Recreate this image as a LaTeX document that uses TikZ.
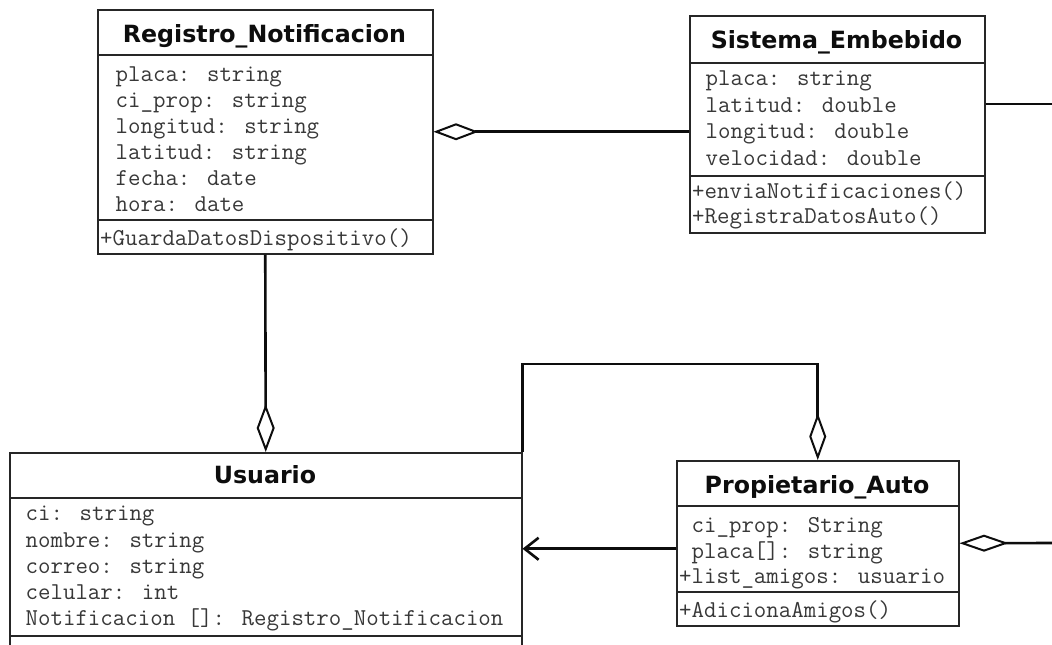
\documentclass[tikz,border=0pt]{standalone}
\usepackage{fontspec}
\usetikzlibrary{arrows.meta}
\newfontfamily\dejavufam{DejaVu Sans}
\newcommand{\ttlfont}{\dejavufam\bfseries\fontsize{23.7}{26}\selectfont}
\newcommand{\atrfont}{\ttfamily\fontsize{24.2}{26}\selectfont}
\tikzset{
  cls/.style={draw=black!85, line width=1.5pt, fill=white, rectangle, inner sep=0pt, anchor=north west},
  ttl/.style={font=\ttlfont, text=black!95, inner sep=0pt, anchor=base},
  atr/.style={font=\atrfont, text=black!78, inner sep=0pt, anchor=base west},
  sep/.style={draw=black!85, line width=1.5pt},
  conn/.style={line width=2.6pt, black!95},
  aggtip/.style={line width=2pt},
}
\begin{document}
\begin{tikzpicture}[x=1pt,y=-1pt]
\useasboundingbox (0,0) rectangle (1052,645);
\fill[white] (0,0) rectangle (1052,645);
\clip (0,0) rectangle (1052,645);

% ---------- Registro_Notificacion ----------
\node[cls, minimum width=335pt, minimum height=244pt] (reg) at (97,9) {};
\draw[sep] (97,55) -- (432,55);
\draw[sep] (97,220) -- (432,220);
\node[ttl] (regT) at (264.5,42) {Registro\_Notificacion};
\node[atr] (reg1) at (103,81)  {\ placa: string};
\node[atr] (reg2) at (103,107) {\ ci\_prop: string};
\node[atr] (reg3) at (103,133) {\ longitud: string};
\node[atr] (reg4) at (103,159) {\ latitud: string};
\node[atr] (reg5) at (103,185) {\ fecha: date};
\node[atr] (reg6) at (103,211) {\ hora: date};
\node[atr] (reg7) at (100,245) {+GuardaDatosDispositivo()};

% ---------- Sistema_Embebido ----------
\node[cls, minimum width=295pt, minimum height=217pt] (sis) at (689,15) {};
\draw[sep] (689,63) -- (984,63);
\draw[sep] (689,176) -- (984,176);
\node[ttl] (sisT) at (836.5,48) {Sistema\_Embebido};
\node[atr] (sis1) at (693,85)  {\ placa: string};
\node[atr] (sis2) at (693,112) {\ latitud: double};
\node[atr] (sis3) at (693,138) {\ longitud: double};
\node[atr] (sis4) at (693,165) {\ velocidad: double};
\node[atr] (sis5) at (692,198) {+enviaNotificaciones()};
\node[atr] (sis6) at (692,223) {+RegistraDatosAuto()};

% ---------- Usuario ----------
\node[cls, minimum width=512pt, minimum height=260pt] (usr) at (9,452) {};
\draw[sep] (9,498) -- (521,498);
\draw[sep] (9,636) -- (521,636);
\node[ttl] (usrT) at (265,483) {Usuario};
\node[atr] (usr1) at (13,520) {\ ci: string};
\node[atr] (usr2) at (13,547) {\ nombre: string};
\node[atr] (usr3) at (13,573) {\ correo: string};
\node[atr] (usr4) at (13,599) {\ celular: int};
\node[atr] (usr5) at (13,625) {\ Notificacion []: Registro\_Notificacion};

% ---------- Propietario_Auto ----------
\node[cls, minimum width=282pt, minimum height=165pt] (pro) at (676,460) {};
\draw[sep] (676,506) -- (958,506);
\draw[sep] (676,592) -- (958,592);
\node[ttl] (proT) at (817,493) {Propietario\_Auto};
\node[atr] (pro1) at (679,532) {\ ci\_prop: String};
\node[atr] (pro2) at (679,558) {\ placa[]: string};
\node[atr] (pro3) at (679,583) {+list\_amigos: usuario};
\node[atr] (pro4) at (679,617) {+AdicionaAmigos()};

% ---------- connectors ----------
\coordinate (sisOut) at (1052,104);
\coordinate (proOut) at (1052,543);

% Registro <>---- Sistema
\draw[conn, {Diamond[open,length=45pt,width=17pt,line width=2pt]}-] (reg.east) -- (reg.east -| sis.west);
% Sistema ---- (off page)
\draw[conn] (sis.east |- sisOut) -- (sisOut);
% Registro ----<> Usuario
\draw[conn, -{Diamond[open,length=48pt,width=18pt,line width=2pt]}] (reg.south) -- (usr.north);
% Usuario ----<> Propietario
\draw[conn, -{Diamond[open,length=47pt,width=17pt,line width=2pt]}] (usr.north east) -- ++(0,-88) -| (pro.north);
% Propietario ----> Usuario
\draw[conn, -{Straight Barb[length=14pt,width=22pt,line width=2.6pt]}] ([yshift=-5.5pt]pro.west) -- ([yshift=-5.5pt]pro.west -| usr.east);
% Propietario <>---- (off page)
\draw[conn, {Diamond[open,length=49pt,width=17pt,line width=2pt]}-] (pro.east) -- (proOut);
\end{tikzpicture}
\end{document}
